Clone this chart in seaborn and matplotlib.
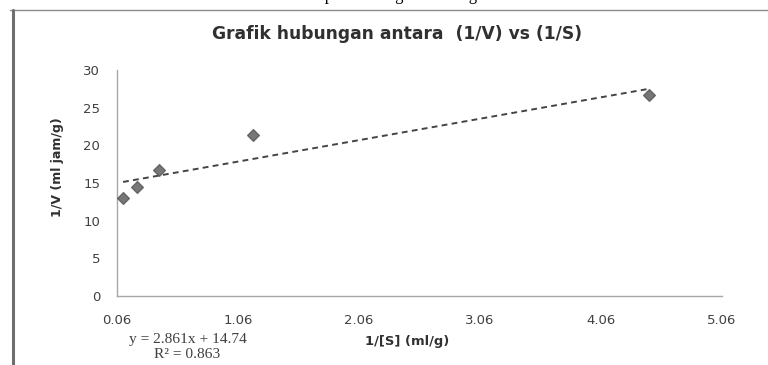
import matplotlib
matplotlib.use("Agg")
import matplotlib.pyplot as plt
import seaborn as sns
import pandas as pd
from matplotlib.lines import Line2D

# Data
inv_s = [0.11, 0.225, 0.41, 1.18, 4.46]      # 1/[S] (ml/g)
inv_v = [13.0, 14.5, 16.7, 21.4, 26.7]        # 1/V (ml jam/g)
x_ticks = [0.06, 1.06, 2.06, 3.06, 4.06, 5.06]
y_ticks = [0, 5, 10, 15, 20, 25, 30]

df = pd.DataFrame({"x": inv_s, "y": inv_v})

sns.set_theme(style="white")
plt.rcParams["font.family"] = ["DejaVu Sans"]

W, H = 768, 365
fig = plt.figure(figsize=(W / 100, H / 100), dpi=100)
ax = fig.add_axes([117/W, 1 - 296/H, (722 - 117)/W, (296 - 70)/H])

sns.regplot(data=df, x="x", y="y", ax=ax, ci=None, marker="D",
            scatter_kws=dict(s=36, color="#555555", edgecolor="#555555", zorder=3),
            line_kws=dict(color="#444444", linestyle=(0, (3.0, 2.2)), linewidth=1.4))

ax.set_xlim(0.06, 5.06)
ax.set_ylim(0, 30)
ax.set_xticks(x_ticks)
ax.set_xticklabels([f"{v:.2f}" for v in x_ticks])
ax.set_yticks(y_ticks)
ax.set_xlabel("")
ax.set_ylabel("")

for s in ["top", "right"]:
    ax.spines[s].set_visible(False)
for s in ["left", "bottom"]:
    ax.spines[s].set_color("#a8a8a8")
    ax.spines[s].set_linewidth(1.0)

ax.tick_params(axis="both", which="both", direction="out", length=4, width=1,
               color="#a8a8a8", labelsize=9.5, labelcolor="#404040")
ax.tick_params(axis="x", pad=9)
ax.tick_params(axis="y", pad=8)
ax.grid(False)

renderer = fig.canvas.get_renderer()


def fit_text(x, y, s, width_px, **kw):
    t = fig.text(x / W, 1 - y / H, s, ha="center", va="center", **kw)
    w = t.get_window_extent(renderer=renderer).width
    t.set_fontsize(t.get_fontsize() * width_px / w)
    return t


fit_text(397, 34, "Grafik hubungan antara  (1/V) vs (1/S)", 367,
         fontsize=12, fontweight="bold", color="#303030")
fig.text(58/W, 1 - 167/H, "1/V (ml jam/g)", rotation=90, ha="center", va="center",
         fontsize=9, fontweight="bold", color="#303030")
fit_text(407, 341, "1/[S] (ml/g)", 85, fontsize=9, fontweight="bold", color="#303030")
eq = fit_text(188, 339, "y = 2.861x + 14.74", 118, fontsize=9, color="#404040",
              family=["Liberation Serif"])
fig.text(187/W, 1 - 355/H, "R² = 0.863", ha="center", va="center",
         fontsize=eq.get_fontsize(), color="#404040", family=["Liberation Serif"])

# Document caption cut off at the top
fig.text(384/W, 1 + 4/H, "Dari Tabel 4. dapat dibuat grafik sebagai berikut :",
         ha="center", va="center", fontsize=12, color="black", family=["Liberation Serif"])

# Chart frame (top and left border)
fig.add_artist(Line2D([10/W, 1.0], [1 - 10/H, 1 - 10/H], transform=fig.transFigure,
                      color="#8c8c8c", linewidth=1.0))
fig.add_artist(Line2D([13/W, 13/W], [0.0, 1 - 10/H], transform=fig.transFigure,
                      color="#6e6e6e", linewidth=2.2))

fig.savefig("out.png", dpi=100)
